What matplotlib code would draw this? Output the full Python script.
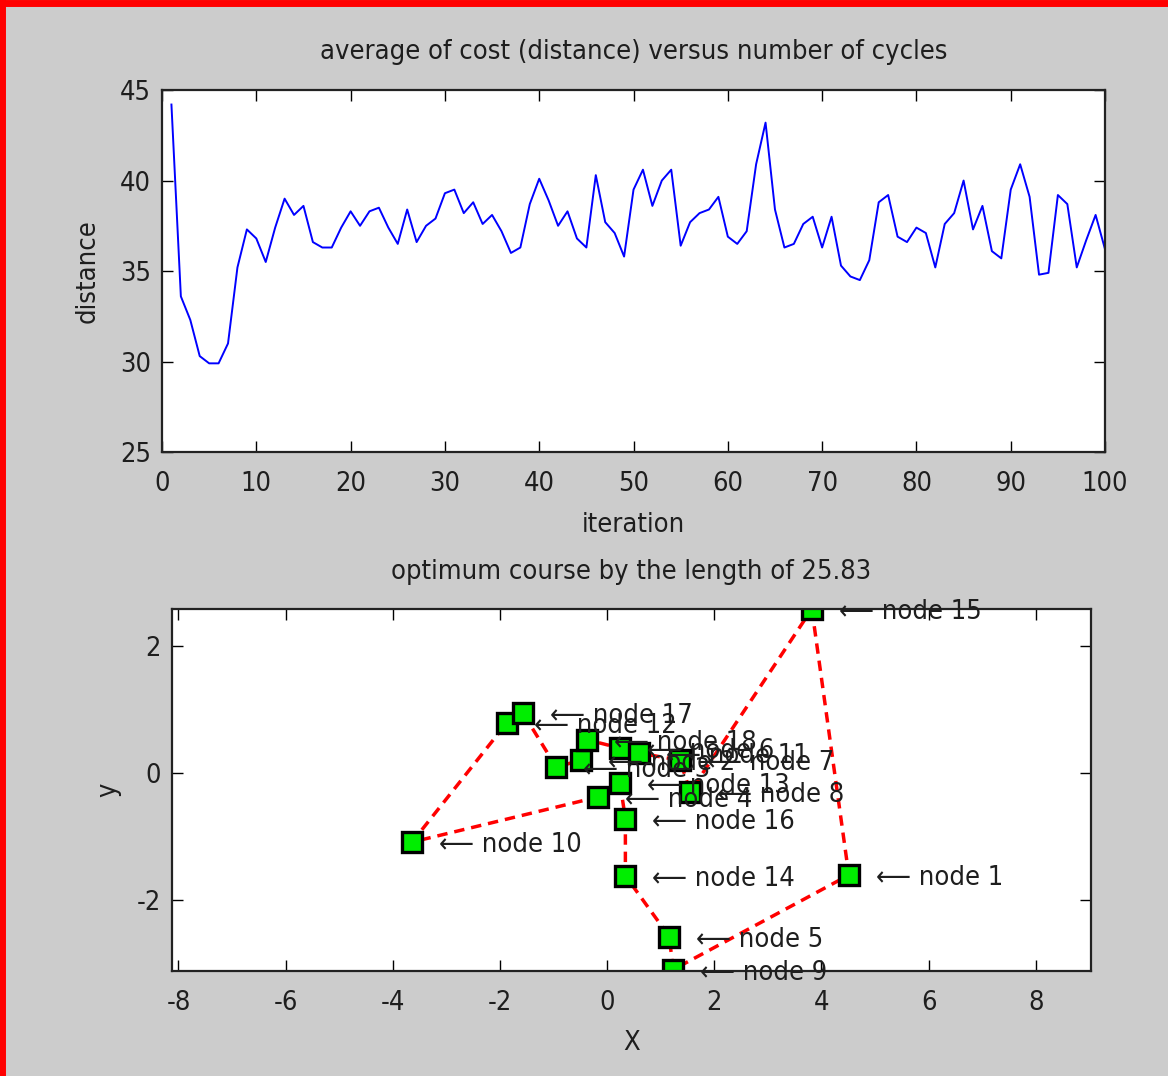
import numpy as np
import matplotlib
matplotlib.use('Agg')
import matplotlib.pyplot as plt
from matplotlib.lines import Line2D
from matplotlib import font_manager

# average cost per cycle
iteration = np.arange(1, 101)
distance = [
    44.2, 33.6, 32.3, 30.3, 29.9, 29.9, 31.0, 35.2, 37.3, 36.8,
    35.5, 37.4, 39.0, 38.1, 38.6, 36.6, 36.3, 36.3, 37.4, 38.3,
    37.5, 38.3, 38.5, 37.4, 36.5, 38.4, 36.6, 37.5, 37.9, 39.3,
    39.5, 38.2, 38.8, 37.6, 38.1, 37.2, 36.0, 36.3, 38.7, 40.1,
    38.9, 37.5, 38.3, 36.8, 36.3, 40.3, 37.7, 37.1, 35.8, 39.5,
    40.6, 38.6, 40.0, 40.6, 36.4, 37.7, 38.2, 38.4, 39.1, 36.9,
    36.5, 37.2, 40.9, 43.2, 38.4, 36.3, 36.5, 37.6, 38.0, 36.3,
    38.0, 35.3, 34.7, 34.5, 35.6, 38.8, 39.2, 36.9, 36.6, 37.4,
    37.1, 35.2, 37.6, 38.2, 40.0, 37.3, 38.6, 36.1, 35.7, 39.5,
    40.9, 39.1, 34.8, 34.9, 39.2, 38.7, 35.2, 36.7, 38.1, 36.2,
]

# node coordinates, node 1..18
node_x = [4.51, -0.49, -0.95, -0.17, 1.16, 0.24, 1.36, 1.55, 1.23,
          -3.64, 0.60, -1.87, 0.24, 0.34, 3.82, 0.34, -1.57, -0.37]
node_y = [-1.61, 0.20, 0.09, -0.38, -2.58, 0.39, 0.20, -0.30, -3.10,
          -1.09, 0.31, 0.79, -0.16, -1.62, 2.58, -0.72, 0.94, 0.52]
tour = [15, 1, 9, 5, 14, 16, 13, 4, 10, 12, 17, 3, 2, 18, 6, 11, 7, 8, 15]
best_length = 25.83


def pick_font():
    # narrow sans like the MATLAB export, if one is around
    fp = font_manager.FontProperties(family='DejaVu Sans', stretch='condensed')
    path = font_manager.findfont(fp, fallback_to_default=False)
    if 'Condensed' in path:
        return 'DejaVu Sans', 'condensed', 1.0
    fp = font_manager.FontProperties(family='Liberation Sans Narrow')
    try:
        path = font_manager.findfont(fp, fallback_to_default=False)
        if 'Narrow' in path:
            return 'Liberation Sans Narrow', 'normal', 1.1
    except Exception:
        pass
    return 'Liberation Sans', 'normal', 0.95


fam, stretch, k = pick_font()
plt.rcParams['font.family'] = [fam, 'DejaVu Sans']
plt.rcParams['font.stretch'] = stretch
plt.rcParams['axes.unicode_minus'] = False
txt = '#1e1e1e'
fs = 19.5 * k
tfs = 19.5 * k

fig = plt.figure(figsize=(11.68, 10.76), dpi=100, facecolor='#cccccc')

# red frame on top and left edge
fig.add_artist(Line2D([0, 1], [0.997, 0.997], color='red', lw=5, transform=fig.transFigure))
fig.add_artist(Line2D([0.002, 0.002], [0, 1], color='red', lw=5, transform=fig.transFigure))

ax1 = fig.add_axes([0.1387, 0.5799, 0.8074, 0.3364])
ax1.plot(iteration, distance, color='#0000ff', lw=1.4)
ax1.set_xlim(0, 100)
ax1.set_ylim(25, 45)
ax1.set_xticks(np.arange(0, 101, 10))
ax1.set_yticks(np.arange(25, 46, 5))
ax1.set_title('average of cost (distance) versus number of cycles',
              fontsize=fs, color=txt, y=1 + 38 / 362, va='center', pad=0)
ax1.set_xlabel('iteration', fontsize=fs, color=txt)
ax1.set_ylabel('distance', fontsize=fs, color=txt)
ax1.xaxis.set_label_coords(0.5, -73 / 362)
ax1.yaxis.set_label_coords(-74 / 943, 0.5)

ax2 = fig.add_axes([0.1473, 0.0976, 0.7868, 0.3364])
px = [node_x[n - 1] for n in tour]
py = [node_y[n - 1] for n in tour]
ax2.plot(px, py, color='red', lw=2.5, ls=(0, (3, 2)))
ax2.plot(node_x, node_y, 's', ms=15, mfc='#00ee00', mec='black', mew=2.4, ls='none')
for i, (x, y) in enumerate(zip(node_x, node_y)):
    ax2.annotate('\u27f5 node %d' % (i + 1), (x, y), xytext=(27, -3),
                 textcoords='offset pixels', va='center', ha='left',
                 fontsize=fs, color=txt, annotation_clip=False)
ax2.set_xlim(-8.12, 9.03)
ax2.set_ylim(-3.12, 2.58)
ax2.set_xticks(np.arange(-8, 9, 2))
ax2.set_yticks([-2, 0, 2])
ax2.set_title('optimum course by the length of %.2f' % best_length,
              fontsize=fs, color=txt, y=1 + 37 / 362, va='center', pad=0)
ax2.set_xlabel('X', fontsize=fs, color=txt)
ax2.set_ylabel('y', fontsize=fs, color=txt)
ax2.xaxis.set_label_coords(0.5, -72 / 362)
ax2.yaxis.set_label_coords(-64 / 919, 0.5)

for ax in (ax1, ax2):
    ax.xaxis.label.set_va('center')
    ax.yaxis.label.set_va('center')
    ax.set_facecolor('white')
    ax.tick_params(direction='in', top=True, right=True, length=8, width=1,
                   labelsize=tfs, colors='black', labelcolor=txt)
    ax.tick_params(axis='x', pad=14)
    ax.tick_params(axis='y', pad=8)
    for s in ax.spines.values():
        s.set_linewidth(1.6)
        s.set_color('#222222')

fig.savefig('out.png', dpi=100, facecolor=fig.get_facecolor())
